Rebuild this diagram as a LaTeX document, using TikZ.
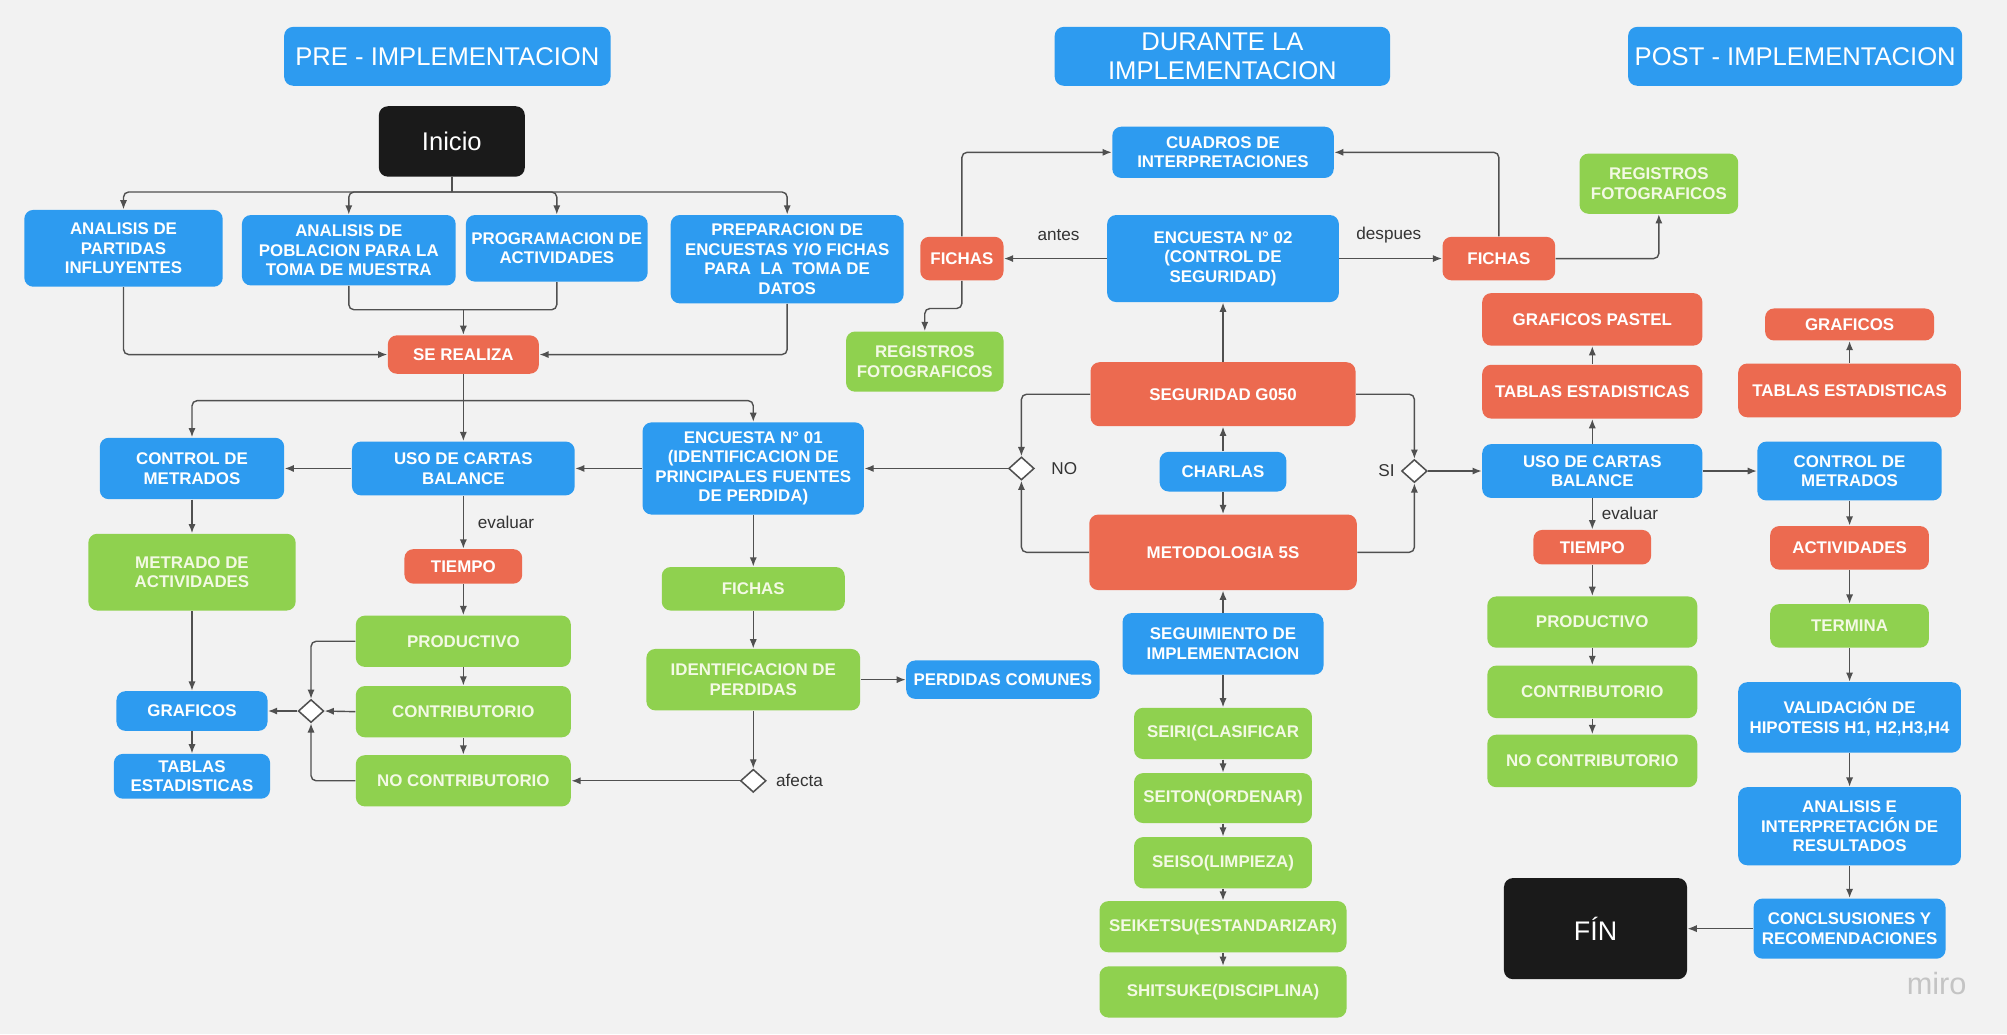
\documentclass[tikz,border=0pt]{standalone}
\usepackage{fontspec}
\setmainfont{Liberation Sans}
\usetikzlibrary{shapes.geometric,arrows.meta}
\definecolor{cblue}{HTML}{2D9BF0}
\definecolor{cred}{HTML}{EC6A50}
\definecolor{cgreen}{HTML}{8FD14F}
\definecolor{cblack}{HTML}{1A1A1A}
\definecolor{cbg}{HTML}{F2F2F2}
\definecolor{cline}{HTML}{505050}
\definecolor{cgtext}{HTML}{F3F9E4}
\definecolor{clbl}{HTML}{333333}
\definecolor{cmiro}{HTML}{C4C4C4}
\newcommand{\boxfont}{\bfseries\fontsize{6.6}{7.6}\selectfont}
\newcommand{\titlefont}{\fontsize{10}{11}\selectfont}
\newcommand{\lblfont}{\fontsize{6.7}{7.6}\selectfont}
\newcommand{\mybox}[7]{\node[#2, minimum width={(#5-#3)*0.5pt}, minimum height={(#6-#4)*0.5pt}] (#1) at ({(#3+#5)/2},{(#4+#6)/2}) {#7};}
\tikzset{
  basebox/.style={rounded corners=3.5pt, inner sep=1pt, align=center, text=white, font=\boxfont},
  bbox/.style={basebox, fill=cblue},
  rbox/.style={basebox, fill=cred},
  gbox/.style={basebox, fill=cgreen, text=cgtext},
  kbox/.style={basebox, fill=cblack, font=\titlefont},
  tbox/.style={basebox, fill=cblue, font=\titlefont},
  dia/.style={diamond, draw=cline, fill=white, line width=0.6pt, inner sep=0pt, minimum width=10pt, minimum height=9pt},
  lbl/.style={font=\lblfont, text=clbl, inner sep=0pt},
  conn/.style={draw=cline, line width=0.55pt, rounded corners=2pt},
  arr/.style={conn, -{Latex[length=3.6pt,width=2.8pt]}}
}
\begin{document}
\begin{tikzpicture}[x=0.5pt,y=-0.5pt]
\fill[cbg] (0,0) rectangle (1568,808);
\useasboundingbox (0,0) rectangle (1568,808);

% titles
\mybox{pre}{tbox}{222}{21}{477}{67}{PRE - IMPLEMENTACION}
\mybox{dur}{tbox}{824}{21}{1086}{67}{DURANTE LA\\IMPLEMENTACION}
\mybox{post}{tbox}{1272}{21}{1533}{67}{POST - IMPLEMENTACION}

% PRE
\mybox{inicio}{kbox}{296}{83}{410}{138}{Inicio}
\mybox{apif}{bbox}{19}{164}{174}{224}{ANALISIS DE\\PARTIDAS\\INFLUYENTES}
\mybox{apob}{bbox}{189}{168}{356}{223}{ANALISIS DE\\POBLACION PARA LA\\TOMA DE MUESTRA}
\mybox{prog}{bbox}{364}{168}{506}{220}{PROGRAMACION DE\\ACTIVIDADES}
\mybox{prep}{bbox}{524}{168}{706}{237}{PREPARACION DE\\ENCUESTAS Y/O FICHAS\\PARA\ \ LA\ \ TOMA DE\\DATOS}
\mybox{sr}{rbox}{303}{262}{421}{292}{SE REALIZA}
\mybox{cm1}{bbox}{78}{342}{222}{390}{CONTROL DE\\METRADOS}
\mybox{uso1}{bbox}{275}{345}{449}{387}{USO DE CARTAS\\BALANCE}
\mybox{enc1}{bbox}{502}{330}{675}{402}{ENCUESTA N° 01\\(IDENTIFICACION DE\\PRINCIPALES FUENTES\\DE PERDIDA)}
\mybox{met}{gbox}{69}{417}{231}{477}{METRADO DE\\ACTIVIDADES}
\mybox{tiempo1}{rbox}{316}{429}{408}{456}{TIEMPO}
\mybox{prod1}{gbox}{278}{481}{446}{521}{PRODUCTIVO}
\mybox{contrib1}{gbox}{278}{536}{446}{576}{CONTRIBUTORIO}
\mybox{nocontrib1}{gbox}{278}{590}{446}{630}{NO CONTRIBUTORIO}
\mybox{graf1}{bbox}{91}{540}{209}{571}{GRAFICOS}
\mybox{tab1}{bbox}{89}{589}{211}{624}{TABLAS\\ESTADISTICAS}
\mybox{fichas1}{gbox}{517}{443}{660}{477}{FICHAS}
\mybox{ident}{gbox}{505}{507}{672}{555}{IDENTIFICACION DE\\PERDIDAS}
\mybox{perd}{bbox}{708}{516}{859}{546}{PERDIDAS COMUNES}
\node[dia] (d1) at (243,555.5) {};
\node[dia] (d2) at (588.5,610) {};

% DURANTE
\mybox{cuadros}{bbox}{869}{99}{1042}{139}{CUADROS DE\\INTERPRETACIONES}
\mybox{enc2}{bbox}{865}{168}{1046}{236}{ENCUESTA N° 02\\(CONTROL DE\\SEGURIDAD)}
\mybox{fichasL}{rbox}{719}{185}{784}{219}{FICHAS}
\mybox{regL}{gbox}{661}{259}{784}{306}{REGISTROS\\FOTOGRAFICOS}
\mybox{fichasR}{rbox}{1127}{185}{1215}{219}{FICHAS}
\mybox{regR}{gbox}{1234}{120}{1358}{167}{REGISTROS\\FOTOGRAFICOS}
\mybox{seg}{rbox}{852}{283}{1059}{333}{SEGURIDAD G050}
\mybox{charlas}{bbox}{906}{353}{1005}{384}{CHARLAS}
\mybox{meto}{rbox}{851}{402}{1060}{461}{METODOLOGIA 5S}
\mybox{seguim}{bbox}{877}{479}{1034}{527}{SEGUIMIENTO DE\\IMPLEMENTACION}
\mybox{seiri}{gbox}{886}{553}{1025}{593}{SEIRI(CLASIFICAR}
\mybox{seiton}{gbox}{886}{604}{1025}{643}{SEITON(ORDENAR)}
\mybox{seiso}{gbox}{886}{654}{1025}{694}{SEISO(LIMPIEZA)}
\mybox{seiketsu}{gbox}{859}{704}{1052}{744}{SEIKETSU(ESTANDARIZAR)}
\mybox{shitsuke}{gbox}{859}{755}{1052}{795}{SHITSUKE(DISCIPLINA)}
\node[dia] (d3) at (798,366) {};
\node[dia] (d4) at (1105,368) {};

% POST
\mybox{grafp}{rbox}{1158}{229}{1330}{270}{GRAFICOS PASTEL}
\mybox{tab2}{rbox}{1158}{285}{1330}{327}{TABLAS ESTADISTICAS}
\mybox{uso2}{bbox}{1158}{347}{1330}{389}{USO DE CARTAS\\BALANCE}
\mybox{tiempo2}{rbox}{1198}{414}{1290}{441}{TIEMPO}
\mybox{prod2}{gbox}{1162}{466}{1326}{506}{PRODUCTIVO}
\mybox{contrib2}{gbox}{1162}{520}{1326}{561}{CONTRIBUTORIO}
\mybox{nocontrib2}{gbox}{1162}{574}{1326}{615}{NO CONTRIBUTORIO}
\mybox{grafR}{rbox}{1379}{241}{1511}{266}{GRAFICOS}
\mybox{tab3}{rbox}{1358}{284}{1532}{326}{TABLAS ESTADISTICAS}
\mybox{cm2}{bbox}{1373}{345}{1517}{391}{CONTROL DE\\METRADOS}
\mybox{activ}{rbox}{1383}{411}{1507}{445}{ACTIVIDADES}
\mybox{termina}{gbox}{1383}{472}{1507}{506}{TERMINA}
\mybox{valid}{bbox}{1358}{533}{1532}{588}{VALIDACIÓN DE\\HIPOTESIS H1, H2,H3,H4}
\mybox{anal}{bbox}{1358}{615}{1532}{676}{ANALISIS E\\INTERPRETACIÓN DE\\RESULTADOS}
\mybox{concl}{bbox}{1370}{702}{1520}{749}{CONCLSUSIONES Y\\RECOMENDACIONES}
\node[kbox, minimum width=71.5pt, minimum height=39.5pt, font=\fontsize{10.5}{12}\selectfont] (fin) at (1246.5,725.5) {FÍN};

% labels
\node[lbl, anchor=west] (ev1) at (373,408) {evaluar};
\node[lbl, anchor=west] (af) at (606,610) {afecta};
\node[lbl, anchor=west] (no) at (821,366) {NO};
\node[lbl] (antes) at (827,184) {antes};
\node[lbl] (desp) at (1085,184) {despues};
\node[lbl, anchor=east] (si) at (1090,368) {SI};
\node[lbl, anchor=west] (ev2) at (1251,401) {evaluar};
\node[font=\fontsize{12}{12}\selectfont, text=cmiro, inner sep=0pt] (miro) at (1513,768) {miro};

% connectors PRE
\coordinate (jI) at (353,150);
\draw[conn] (inicio.south) -- (jI);
\draw[arr] (jI) -| (apif.north);
\draw[arr] (jI) -| (apob.north);
\draw[arr] (jI) -| (prog.north);
\draw[arr] (jI) -| (prep.north);
\coordinate (jS) at (362,242);
\draw[conn] (apob.south) |- (jS) -| (prog.south);
\draw[arr] (jS) -- (sr.north);
\draw[arr] (apif.south) |- (sr.west);
\draw[arr] (prep.south) |- (sr.east);
\coordinate (jR) at (362,313);
\draw[conn] (sr.south) -- (jR);
\draw[arr] (jR) -| (cm1.north);
\draw[arr] (jR) -- (uso1.north);
\draw[arr] (jR) -| (enc1.north);
\draw[arr] (enc1.west) -- (uso1.east);
\draw[arr] (uso1.west) -- (cm1.east);
\draw[arr] (uso1.south) -- (tiempo1.north);
\draw[arr] (tiempo1.south) -- (prod1.north);
\draw[arr] (prod1.south) -- (contrib1.north);
\draw[arr] (contrib1.south) -- (nocontrib1.north);
\draw[arr] (cm1.south) -- (met.north);
\draw[arr] (met.south) -- (graf1.north);
\draw[arr] (graf1.south) -- (tab1.north);
\draw[arr] (prod1.west) -| (d1.north);
\draw[arr] (nocontrib1.west) -| (d1.south);
\draw[arr] (contrib1.west) -- (d1.east);
\draw[arr] (d1.west) -- (graf1.east);
\draw[arr] (enc1.south) -- (fichas1.north);
\draw[arr] (fichas1.south) -- (ident.north);
\draw[arr] (ident.east) -- (perd.west);
\draw[arr] (ident.south) -- (d2.north);
\draw[arr] (d2.west) -- (nocontrib1.east);

% connectors DURANTE
\draw[arr] (d3.west) -- (enc1.east);
\draw[arr] (seg.west) -| (d3.north);
\draw[arr] (meto.west) -| (d3.south);
\draw[arr] (charlas.north) -- (seg.south);
\draw[arr] (charlas.south) -- (meto.north);
\draw[arr] (seg.north) -- (enc2.south);
\draw[arr] (seguim.north) -- (meto.south);
\draw[arr] (seguim.south) -- (seiri.north);
\draw[arr] (seiri.south) -- (seiton.north);
\draw[arr] (seiton.south) -- (seiso.north);
\draw[arr] (seiso.south) -- (seiketsu.north);
\draw[arr] (seiketsu.south) -- (shitsuke.north);
\draw[arr] (enc2.west) -- (fichasL.east);
\draw[arr] (fichasL.north) |- (cuadros.west);
\coordinate (jF) at (751.5,241);
\draw[arr] (fichasL.south) -- (jF) -| (regL.north);
\draw[arr] (enc2.east) -- (fichasR.west);
\draw[arr] (fichasR.north) |- (cuadros.east);
\draw[arr] (fichasR.east) -| (regR.south);
\draw[arr] (seg.east) -| (d4.north);
\draw[arr] (meto.east) -| (d4.south);
\draw[arr] (d4.east) -- (uso2.west);

% connectors POST
\draw[arr] (uso2.north) -- (tab2.south);
\draw[arr] (tab2.north) -- (grafp.south);
\draw[arr] (uso2.south) -- (tiempo2.north);
\draw[arr] (tiempo2.south) -- (prod2.north);
\draw[arr] (prod2.south) -- (contrib2.north);
\draw[arr] (contrib2.south) -- (nocontrib2.north);
\draw[arr] (uso2.east) -- (cm2.west);
\draw[arr] (cm2.south) -- (activ.north);
\draw[arr] (activ.south) -- (termina.north);
\draw[arr] (termina.south) -- (valid.north);
\draw[arr] (valid.south) -- (anal.north);
\draw[arr] (anal.south) -- (concl.north);
\draw[arr] (concl.west) -- (fin.east);
\draw[arr] (tab3.north) -- (grafR.south);
\end{tikzpicture}
\end{document}
